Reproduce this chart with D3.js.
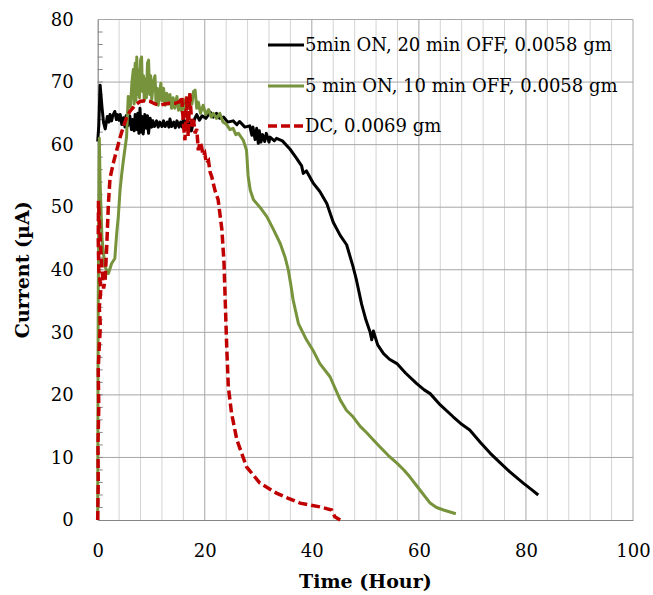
<!DOCTYPE html>
<html>
<head>
<meta charset="utf-8">
<script src="https://cdn.jsdelivr.net/npm/d3@7"></script>
<style>
  body { margin: 0; background: #fff; }
  text { font-family: "DejaVu Serif", serif; fill: #000; }
</style>
</head>
<body>
<svg id="chart" width="653" height="595"></svg>
<script>
// Series: [time (hour), current (uA)]
var black = [
  [0,60.5],[0.2,63],[0.45,69.5],[0.8,66],[1.1,63.5],[1.4,62.5],[1.8,64.5],[2.1,63.6],[2.3,64.8],[2.6,63.8],
  [2.8,64.6],[3.2,65.3],[3.5,64],[3.7,64.8],[4,63.9],[4.2,64.8],[4.5,63.2],[4.8,64.3],[5.1,62.8],[5.3,64.6],
  [5.6,63],[6,64.6],[6.3,62.4],[6.5,64],[6.8,62.2],[7,64.8],[7.3,62.4],[7.5,65],[7.7,61.8],[7.9,65.8],
  [8.1,62],[8.3,64.5],[8.5,61.7],[8.8,64.8],[9.1,62.6],[9.3,64.6],[9.5,61.8],[9.8,64.2],[10.1,62.8],[10.3,63.8],
  [10.6,62.9],[11,63.8],[11.3,62.8],[11.6,63.6],[12,62.9],[12.3,63.8],[12.6,62.9],[13,63.6],[13.3,62.8],[13.5,64.1],
  [13.8,62.9],[14.2,63.6],[14.5,62.7],[14.8,63.8],[15.2,62.8],[15.5,63.6],[15.8,62.8],[16,64.2],[16.3,62.4],[16.6,63.8],
  [16.9,62.3],[17.2,63.6],[17.5,62.2],[17.8,63.3],[18.2,64.3],[18.5,64.8],[19,63.9],[19.5,64.6],[20.2,64.2],[21,65.2],
  [21.6,64.4],[22.2,65],[22.8,64.2],[23.5,64.4],[24.3,63.6],[25.3,63.8],[26,63.2],[26.5,63.7],[27.5,62.8],[28.4,63],
  [28.8,61.5],[29,62.8],[29.4,60.8],[29.7,62.6],[30,60.2],[30.2,62.2],[30.5,60.4],[30.8,61.6],[31.2,60.5],[31.5,61.8],
  [32,60.4],[32.2,61.2],[33,60.6],[33.4,61],[34.5,60.6],[35.9,59.3],[37,58],[38.1,56.6],[38.4,55.4],[39,55.8],
  [40.3,53.8],[41.5,52.5],[42.8,50.6],[44,47.6],[45.3,45.5],[46.5,44],[47.7,40.5],[48.3,38.5],[49.3,34.5],[50.1,32],
  [50.9,30],[51.2,28.8],[51.5,30.2],[52.3,28],[53.4,26.6],[54.5,25.7],[55.9,25],[57.5,23.5],[59.6,21.8],[61,20.8],
  [62.1,20.2],[64,18.4],[66.4,16.5],[68,15.3],[69.5,14.4],[71.5,12.4],[73.3,10.7],[75,9.3],[77,7.7],[78.5,6.6],
  [79.5,5.9],[81,4.9],[82.3,4]
];

var green = [
  [0,0],[0.05,20],[0.1,35],[0.3,61],[0.45,54],[0.8,45],[1.35,40.5],[2,39.4],[2.6,41],[3.2,41.8],
  [3.55,45.8],[3.85,48.5],[4.17,52.7],[4.5,55.4],[4.8,57.5],[5.4,61.3],[5.7,67.7],[6.1,66],[6.4,70],[6.65,72],
  [6.8,66.5],[7,73],[7.15,67],[7.3,74],[7.45,68],[7.6,72],[7.8,67.5],[8,73.5],[8.2,74],[8.35,68.5],
  [8.55,71],[8.7,67],[8.9,70.5],[9.1,67.5],[9.3,73],[9.5,73.5],[9.7,68],[9.9,71],[10.1,67.2],[10.4,70],
  [10.7,71],[10.9,66.5],[11.1,69],[11.3,66.3],[11.6,68.5],[11.8,69.8],[12,67],[12.3,69],[12.6,66.3],[12.9,68.2],
  [13.2,66.5],[13.5,68],[13.8,65.8],[14.1,67.5],[14.4,65.8],[14.8,67.7],[15.1,65.5],[15.4,67],[15.7,65.3],[16,67.2],
  [16.3,65.6],[16.6,67.5],[16.9,66],[17.2,68],[17.6,66.5],[17.9,68.5],[18.2,68.7],[18.5,65.8],[18.8,66.8],[19.2,65],
  [19.7,66.3],[20.2,64.8],[20.7,65.6],[21.2,64.4],[21.6,65],[22.2,64.2],[22.8,65],[23.4,63.6],[24.1,63.2],[24.7,62.4],
  [25.3,62.6],[25.8,61.6],[26.3,61.8],[27.2,60.7],[27.8,59.1],[28.1,55],[28.5,52.7],[29.1,51.2],[30.3,50],[31.6,48.5],
  [32.8,46.5],[34.1,44.2],[35,42],[35.6,40],[36.1,37.5],[36.5,35.2],[37.5,31.4],[39,28.8],[40.3,27],[41.5,25],
  [43.4,22.9],[45.3,19.2],[46.5,17.5],[47.7,16.5],[49,15],[50.3,13.9],[51.5,12.8],[52.7,11.7],[54.3,10.3],[55.9,9.1],
  [57.2,8],[58.3,6.9],[60.2,4.8],[62.1,2.7],[63.3,2],[64.6,1.6],[66.9,1]
];

var red = [
  [0,0],[0.1,6],[0.05,12],[0.2,18],[0.1,24],[0.3,28],[0.5,31],[0.3,34],[0.6,37],[0.2,40],
  [0.1,45],[0.15,51],[0.4,46],[0.8,40],[1.1,37],[1.4,38.5],[1.7,44],[2,50.6],[2.3,54.6],[2.9,57],
  [3.55,59.1],[4.2,61.2],[4.8,62.9],[5.4,64.3],[6,65.3],[7,66.3],[7.9,66.9],[8.8,67],[9.8,66.9],[10.7,66.5],
  [11.6,66.3],[12.5,66.5],[13.5,66.6],[14.5,66.6],[15.4,66.9],[15.7,67.7],[16,63.4],[16.3,60.7],[16.6,67.7],[16.9,61.3],
  [17.2,68.2],[17.6,62.9],[17.9,64],[18.2,61.8],[18.5,62.5],[18.8,59.1],[19.1,60.4],[19.4,59.7],[19.7,58.2],[20,58.6],
  [20.3,57],[20.7,57.4],[21,55.6],[21.3,54.9],[21.9,52.7],[22.5,51.2],[23.2,46.4],[23.6,41],[23.8,35.7],[24.1,27.7],
  [24.4,21.3],[25,17.1],[26,12.8],[27.8,8.5],[30.3,5.9],[33.4,4.3],[35.5,3.5],[37.8,2.7],[41.5,2.1],[43.7,1.6],
  [44.3,0.5],[45.3,0]
];

var seriesNames = ["5min ON, 20 min OFF, 0.0058 gm", "5 min ON, 10 min OFF, 0.0058 gm", "DC, 0.0069 gm"];
var seriesColors = ["#000000", "#77933c", "#c00000"];
var xTicks = [0, 20, 40, 60, 80, 100];
var yTicks = [0, 10, 20, 30, 40, 50, 60, 70, 80];

// chart area
var margin = { top: 19.5, left: 97.7 };
var chartWidth = 633 - margin.left;
var chartHeight = 520 - margin.top;

var svg = d3.select("#chart");
var chartGroup = svg.append("g")
  .attr("transform", `translate(${margin.left}, ${margin.top})`);

var xScale = d3.scaleLinear().domain([0, 100]).range([0, chartWidth]);
var yScale = d3.scaleLinear().domain([0, 80]).range([chartHeight, 0]);

// vertical grid: every 4 hours, darker every 20
chartGroup.append("g")
  .selectAll("line")
  .data(d3.range(4, 100, 4))
  .join("line")
  .attr("x1", d => xScale(d)).attr("x2", d => xScale(d))
  .attr("y1", 0).attr("y2", chartHeight)
  .attr("stroke", d => d % 20 === 0 ? "#a6a6a6" : "#d4d4d4")
  .attr("stroke-width", 1);

// horizontal grid every 10
chartGroup.append("g")
  .selectAll("line")
  .data(d3.range(10, 80, 10))
  .join("line")
  .attr("x1", 0).attr("x2", chartWidth)
  .attr("y1", d => yScale(d)).attr("y2", d => yScale(d))
  .attr("stroke", "#a6a6a6")
  .attr("stroke-width", 1);

// top and right border
chartGroup.append("path")
  .attr("d", `M0,${yScale(80)}H${xScale(100)}V${yScale(0)}`)
  .attr("fill", "none")
  .attr("stroke", "#a6a6a6");

// minor ticks on y axis (inside)
chartGroup.append("g")
  .selectAll("line")
  .data(d3.range(2, 80, 2))
  .join("line")
  .attr("x1", 0).attr("x2", 5)
  .attr("y1", d => yScale(d)).attr("y2", d => yScale(d))
  .attr("stroke", "#868686");

// axes
var bottomAxis = d3.axisBottom(xScale).tickValues(xTicks).tickSize(0).tickPadding(24);
var leftAxis = d3.axisLeft(yScale).tickValues(yTicks).tickSize(0).tickPadding(24);

var xAxisG = chartGroup.append("g")
  .attr("transform", `translate(0, ${chartHeight})`)
  .call(bottomAxis);
var yAxisG = chartGroup.append("g")
  .call(leftAxis);

[xAxisG, yAxisG].forEach(function(g) {
  g.select(".domain").attr("stroke", "#868686").attr("stroke-width", 1.2);
  g.selectAll("text")
    .style("font-family", "DejaVu Serif")
    .style("font-size", "18px")
    .attr("fill", "#000");
});

// lines
var drawLine = d3.line()
  .x(d => xScale(d[0]))
  .y(d => yScale(d[1]));

chartGroup.append("path")
  .attr("d", drawLine(black))
  .attr("fill", "none")
  .attr("stroke", seriesColors[0])
  .attr("stroke-width", 3)
  .attr("stroke-linejoin", "round");

chartGroup.append("path")
  .attr("d", drawLine(green))
  .attr("fill", "none")
  .attr("stroke", seriesColors[1])
  .attr("stroke-width", 3)
  .attr("stroke-linejoin", "round");

chartGroup.append("path")
  .attr("d", drawLine(red))
  .attr("fill", "none")
  .attr("stroke", seriesColors[2])
  .attr("stroke-width", 3.5)
  .attr("stroke-dasharray", "9,4");

// legend
var legend = svg.append("g");
var legendY = [45, 86, 126];
seriesNames.forEach(function(name, i) {
  legend.append("line")
    .attr("x1", 268).attr("x2", 304)
    .attr("y1", legendY[i]).attr("y2", legendY[i])
    .attr("stroke", seriesColors[i])
    .attr("stroke-width", i === 2 ? 3.5 : 3)
    .attr("stroke-dasharray", i === 2 ? "9,4" : null);
  legend.append("text")
    .attr("x", 305)
    .attr("y", legendY[i])
    .attr("dy", "0.35em")
    .style("font-size", "18px")
    .text(name);
});

// axis titles
svg.append("text")
  .attr("x", margin.left + chartWidth / 2)
  .attr("y", 588)
  .attr("text-anchor", "middle")
  .style("font-size", "19px")
  .style("font-weight", "bold")
  .text("Time (Hour)");

svg.append("text")
  .attr("transform", `translate(29, ${margin.top + chartHeight / 2}) rotate(-90)`)
  .attr("text-anchor", "middle")
  .style("font-size", "19px")
  .style("font-weight", "bold")
  .text("Current (µA)");
</script>
</body>
</html>
